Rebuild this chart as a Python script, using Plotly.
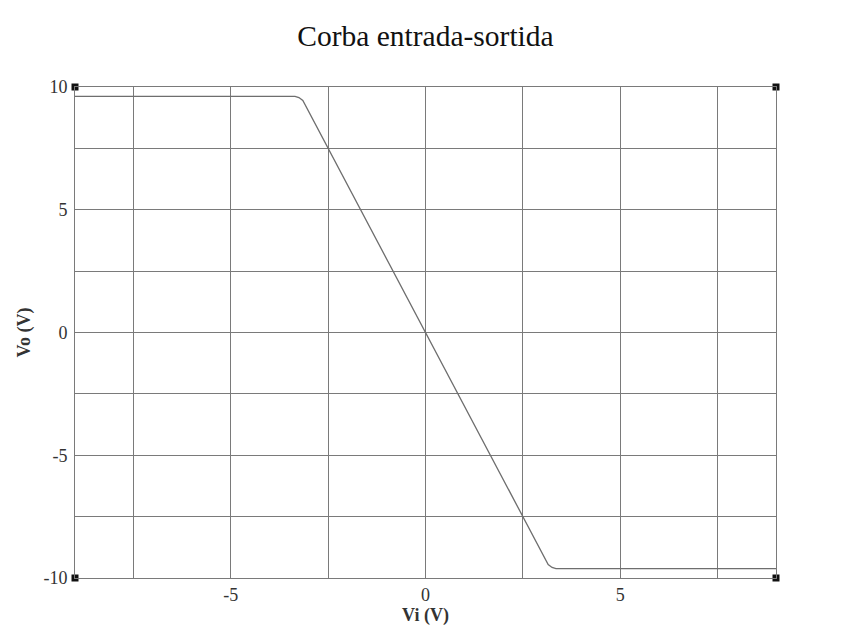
import plotly.graph_objects as go

# Corba de transferència (valors llegits de la gràfica)
vi = [-9, -3.35, -3.25, -3.15, 3.15, 3.25, 3.35, 9]
vo = [9.62, 9.62, 9.57, 9.45, -9.45, -9.57, -9.62, -9.62]

x_range = [-9, 9]
y_range = [-10, 10]
x_ticks = [-5, 0, 5]
x_labels = ["-5", "0", "5"]
y_ticks = [-10, -5, 0, 5, 10]
y_labels = ["-10", "-5", "0", "5", "10"]

# marques de les cantonades
corner_x = [x_range[0], x_range[1], x_range[0], x_range[1]]
corner_y = [y_range[1], y_range[1], y_range[0], y_range[0]]

FONT = "Liberation Serif, Times New Roman, serif"
GRID = "#7a7a7a"

fig = go.Figure()
fig.add_trace(go.Scatter(
    x=vi, y=vo, mode="lines",
    line=dict(color="#6e6e6e", width=1.3),
    showlegend=False, hoverinfo="skip",
))
fig.add_trace(go.Scatter(
    x=corner_x, y=corner_y, mode="markers",
    marker=dict(symbol="square", size=7, color="#111111"),
    cliponaxis=False, showlegend=False, hoverinfo="skip",
))

axis_common = dict(
    showline=True, mirror=True, linecolor=GRID, linewidth=1,
    showgrid=True, gridcolor=GRID, gridwidth=1,
    zeroline=False, ticks="", automargin=False,
    tickfont=dict(family=FONT, size=18, color="#333"),
)

# la pàgina té 8 px de marge al cos: es compensa aquí
fig.update_layout(
    width=848, height=626,
    paper_bgcolor="white", plot_bgcolor="white",
    margin=dict(l=67, r=80, t=79, b=56),
    title=dict(text="Corba entrada-sortida", x=0.4923, xanchor="center",
               y=1 - 28 / 626, yanchor="middle",
               font=dict(family=FONT, size=29.5, color="#111")),
    font=dict(family=FONT, color="#222"),
    xaxis=dict(range=x_range, tickvals=x_ticks, ticktext=x_labels,
               minor=dict(dtick=2.5, tick0=0, showgrid=True, gridcolor=GRID, gridwidth=1),
               title=dict(text="<b>Vi (V)</b>", font=dict(family=FONT, size=18, color="#333"),
                          standoff=0),
               ticklabelstandoff=0,
               **axis_common),
    yaxis=dict(range=y_range, tickvals=y_ticks, ticktext=y_labels,
               minor=dict(dtick=2.5, tick0=0, showgrid=True, gridcolor=GRID, gridwidth=1),
               title=dict(text="<b>Vo (V)</b>", font=dict(family=FONT, size=18, color="#333"),
                          standoff=8),
               ticklabelstandoff=3,
               **axis_common),
)

fig.write_html("out.html")
